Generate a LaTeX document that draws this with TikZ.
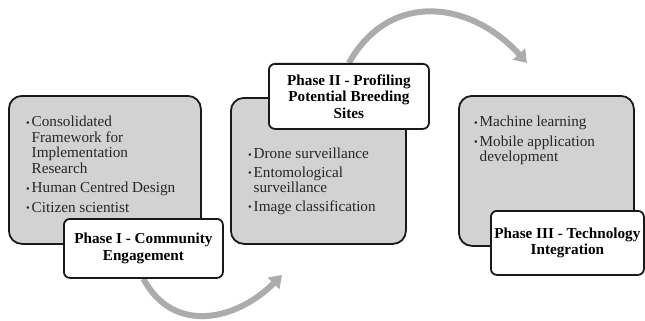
\documentclass[tikz,border=0pt]{standalone}
\usepackage{fontspec}
\setmainfont{Liberation Serif}
\usetikzlibrary{arrows.meta,backgrounds}

% small bullet with a hanging indent for the item lists
\newcommand\itembullet{\makebox[5.5pt][l]{\raisebox{0.5pt}{\fontsize{10.5}{10.5}\selectfont\textbullet}}}
\newcommand\itemhang{\hspace*{5.5pt}}

\begin{document}
\begin{tikzpicture}[x=1pt,y=-1pt,
  phasebox/.style={draw=black!90, line width=1.8pt, fill=gray!35, rounded corners=13pt,
    anchor=north west, inner sep=0pt},
  titlebox/.style={draw=black!90, line width=1.8pt, fill=white, rounded corners=6pt,
    anchor=north west, inner sep=0pt, align=center,
    font=\fontsize{15.2}{16.5}\selectfont\bfseries},
  itemlist/.style={anchor=north west, inner sep=0pt, align=left, text=black!85,
    font=\fontsize{15.2}{15.5}\selectfont},
  turnarrow/.style={draw=gray!65, line width=6pt, -{Triangle[width=16pt,length=12pt]}},
]
\useasboundingbox (0,0) rectangle (645,321);

% phase panels
\node[phasebox, minimum width=192pt, minimum height=148pt] (p1) at (8,95) {};
\node[phasebox, minimum width=175pt, minimum height=146pt] (p2) at (230,97) {};
\node[phasebox, minimum width=175pt, minimum height=150pt] (p3) at (458,95) {};

% item lists
\node[itemlist] (l1) at (26,116) {\itembullet Consolidated\\
  \itemhang Framework for\\
  \itemhang Implementation\\
  \itemhang Research\\[4pt]
  \itembullet Human Centred Design\\[4pt]
  \itembullet Citizen scientist};
\node[itemlist] (l2) at (248,148) {\itembullet Drone surveillance\\[3pt]
  \itembullet Entomological\\
  \itemhang surveillance\\[3pt]
  \itembullet Image classification};
\node[itemlist] (l3) at (474,116) {\itembullet Machine learning\\[4pt]
  \itembullet Mobile application\\
  \itemhang development};

% phase titles
\node[titlebox, minimum width=159pt, minimum height=59pt] (t1) at (63,218)
  {Phase I - Community\\Engagement};
\node[titlebox, minimum width=160pt, minimum height=65pt] (t2) at (268,63)
  {Phase II - Profiling\\Potential Breeding\\Sites};
\node[titlebox, minimum width=153pt, minimum height=64pt] (t3) at (490,210)
  {Phase III - Technology\\Integration};

% curved arrows leading from one phase to the next
\coordinate (tip2) at (282,275);
\coordinate (tip3) at (527,63);
\begin{scope}[on background layer]
  \draw[turnarrow] (t1.south) .. controls (173.5,335) and (236.5,320.5) .. (tip2);
  \draw[turnarrow] (t2.north) .. controls (390,-10) and (471,1) .. (tip3);
\end{scope}
\end{tikzpicture}
\end{document}
